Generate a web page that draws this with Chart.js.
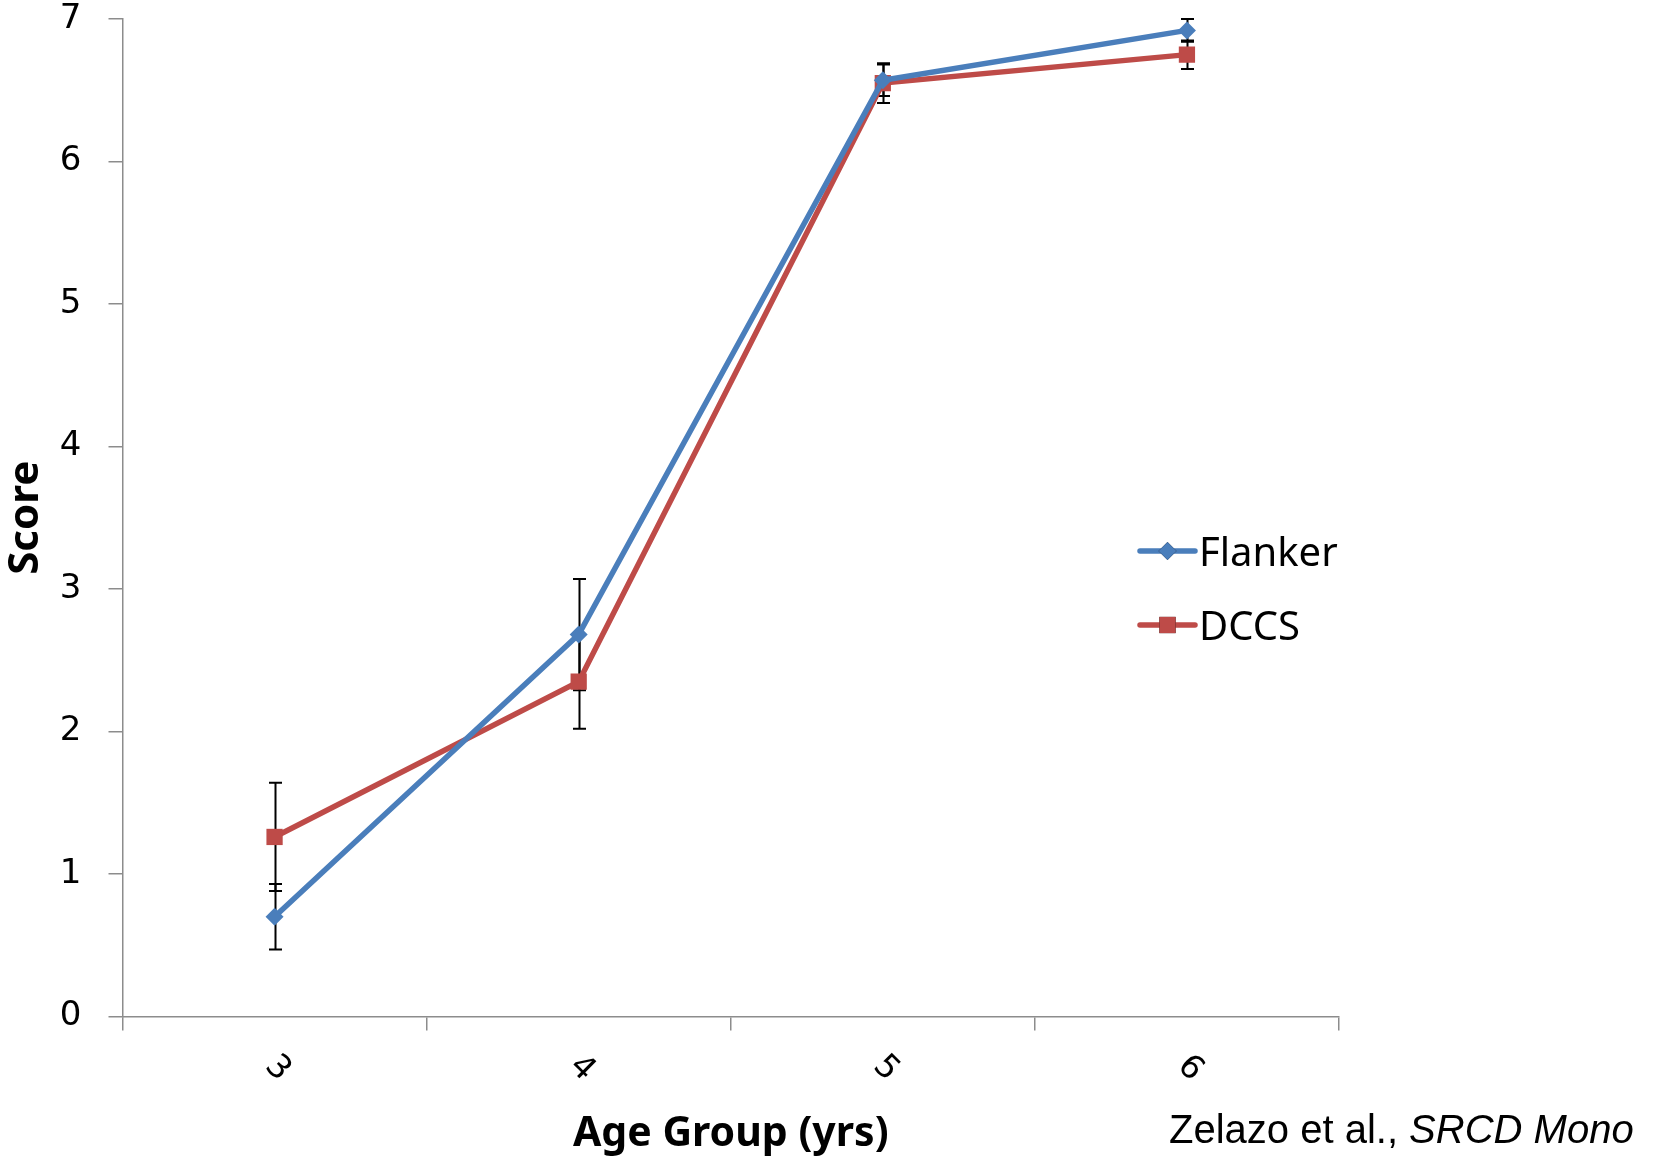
<!DOCTYPE html>
<html>
<head>
<meta charset="utf-8">
<title>Flanker and DCCS scores by age group</title>
<script src="https://cdn.jsdelivr.net/npm/chart.js@4.4.1/dist/chart.umd.min.js"></script>
<style>
  html, body { margin: 0; padding: 0; background: #ffffff; }
  #wrap { width: 1669px; height: 1160px; position: relative; }
</style>
</head>
<body>
<div id="wrap"><canvas id="chart" width="1669" height="1160"></canvas></div>
<script>
// Age groups (years) and mean scores with their error-bar half-widths
const ageGroups = ['3', '4', '5', '6'];
const flankerScores = [0.70, 2.68, 6.57, 6.92];
const flankerErrors = [0.23, 0.39, 0.11, 0.08];
const dccsScores = [1.26, 2.35, 6.55, 6.75];
const dccsErrors = [0.38, 0.33, 0.14, 0.10];
const scoreTicks = [0, 1, 2, 3, 4, 5, 6, 7];

const seriesNames = ['Flanker', 'DCCS'];
const BLUE = '#4A7EBB';
const RED = '#BE4B48';
const AXIS = '#8C8C8C';
const FONT = "'Noto Sans', 'Open Sans', sans-serif";
const NUM_FONT = "'DejaVu Sans', 'Noto Sans', sans-serif";

// Vertical error bars with caps, drawn under the lines and markers
const errorBars = {
  id: 'errorBars',
  beforeDatasetsDraw(chart) {
    const ctx = chart.ctx;
    const yScale = chart.scales.y;
    ctx.save();
    ctx.strokeStyle = '#000000';
    ctx.lineWidth = 2;
    chart.data.datasets.forEach((ds, i) => {
      const meta = chart.getDatasetMeta(i);
      meta.data.forEach((pt, j) => {
        const v = ds.data[j];
        const e = ds.errors[j];
        const yTop = yScale.getPixelForValue(v + e);
        const yBot = yScale.getPixelForValue(v - e);
        const x = Math.round(pt.x) + 0.5;
        const cap = 6.5;
        ctx.beginPath();
        ctx.moveTo(x, yTop); ctx.lineTo(x, yBot);
        ctx.moveTo(x - cap, yTop); ctx.lineTo(x + cap, yTop);
        ctx.moveTo(x - cap, yBot); ctx.lineTo(x + cap, yBot);
        ctx.stroke();
      });
    });
    ctx.restore();
  }
};

// Category labels turned 45 degrees clockwise below the x axis,
// legend inside the plot on the right, and the source note
const decorations = {
  id: 'decorations',
  afterDraw(chart) {
    const ctx = chart.ctx;
    const xScale = chart.scales.x;
    const area = chart.chartArea;
    ctx.save();

    // x tick labels
    ctx.fillStyle = '#000000';
    ctx.font = `33px ${NUM_FONT}`;
    ctx.textAlign = 'center';
    ctx.textBaseline = 'middle';
    ageGroups.forEach((lab, i) => {
      const x = xScale.getPixelForTick(i) + 3;
      const y = area.bottom + 52;
      ctx.save();
      ctx.translate(x, y);
      ctx.rotate(Math.PI / 4);
      ctx.fillText(lab, 0, 0);
      ctx.restore();
    });

    // legend
    const legendX = 1140, legendY = 551, rowGap = 74, lineLen = 55;
    chart.data.datasets.forEach((ds, i) => {
      const y = legendY + i * rowGap;
      ctx.strokeStyle = ds.borderColor;
      ctx.lineWidth = ds.borderWidth;
      ctx.lineCap = 'round';
      ctx.beginPath();
      ctx.moveTo(legendX, y);
      ctx.lineTo(legendX + lineLen, y);
      ctx.stroke();
      Chart.helpers.drawPoint(ctx, {
        pointStyle: ds.pointStyle,
        radius: ds.pointRadius,
        borderWidth: 0,
        rotation: 0
      }, legendX + lineLen / 2, y);
      ctx.fillStyle = ds.backgroundColor;
      ctx.fill();
      ctx.fillStyle = '#000000';
      ctx.font = `40px ${FONT}`;
      ctx.textAlign = 'left';
      ctx.textBaseline = 'alphabetic';
      ctx.fillText(ds.label, legendX + lineLen + 4, y + 15);
    });

    // source note
    ctx.fillStyle = '#000000';
    ctx.textAlign = 'left';
    ctx.textBaseline = 'alphabetic';
    const noteX = 1169, noteY = 1143;
    const plain = 'Zelazo et al., ';
    ctx.font = "40px 'Liberation Sans', Arial, sans-serif";
    ctx.fillText(plain, noteX, noteY);
    const w = ctx.measureText(plain).width;
    ctx.font = "italic 40px 'Liberation Sans', Arial, sans-serif";
    ctx.fillText('SRCD Mono', noteX + w, noteY);

    ctx.restore();
  }
};

new Chart(document.getElementById('chart'), {
  type: 'line',
  data: {
    labels: ageGroups,
    datasets: [
      {
        label: seriesNames[0],
        data: flankerScores,
        errors: flankerErrors,
        borderColor: BLUE,
        backgroundColor: BLUE,
        pointBackgroundColor: BLUE,
        pointBorderWidth: 0,
        borderWidth: 5.5,
        pointStyle: 'rectRot',
        pointRadius: 9,
        tension: 0,
        clip: false
      },
      {
        label: seriesNames[1],
        data: dccsScores,
        errors: dccsErrors,
        borderColor: RED,
        backgroundColor: RED,
        pointBackgroundColor: RED,
        pointBorderWidth: 0,
        borderWidth: 5.5,
        pointStyle: 'rect',
        pointRadius: 11.5,
        tension: 0,
        clip: false
      }
    ]
  },
  options: {
    responsive: false,
    animation: false,
    devicePixelRatio: 1,
    layout: { padding: { left: 0, right: 330, top: 19, bottom: 0 } },
    plugins: {
      legend: { display: false },
      tooltip: { enabled: false }
    },
    scales: {
      x: {
        type: 'category',
        offset: true,
        grid: {
          display: true,
          offset: true,
          drawOnChartArea: false,
          drawTicks: true,
          tickLength: 14,
          color: AXIS,
          lineWidth: 1.5
        },
        border: { display: true, color: AXIS, width: 1.5 },
        ticks: { display: false },
        title: {
          display: true,
          text: 'Age Group (yrs)',
          color: '#000000',
          font: { family: FONT, size: 41, weight: 'bold' },
          padding: { top: 0, bottom: 1 }
        },
        afterFit(scale) { scale.height = 143.5; }
      },
      y: {
        min: 0,
        max: 7,
        afterBuildTicks(scale) { scale.ticks = scoreTicks.map(v => ({ value: v })); },
        grid: {
          display: true,
          drawOnChartArea: false,
          drawTicks: true,
          tickLength: 14,
          color: AXIS,
          lineWidth: 1.5
        },
        border: { display: true, color: AXIS, width: 1.5 },
        ticks: {
          color: '#000000',
          font: { family: NUM_FONT, size: 34 },
          padding: 27
        },
        title: {
          display: true,
          text: 'Score',
          color: '#000000',
          font: { family: FONT, size: 42, weight: 'bold' },
          padding: { top: 1, bottom: 0 }
        },
        afterFit(scale) {
          scale.width = 122.5;
          scale.paddingTop = 0;
          scale.paddingBottom = 0;
        }
      }
    }
  },
  plugins: [errorBars, decorations]
});
</script>
</body>
</html>
